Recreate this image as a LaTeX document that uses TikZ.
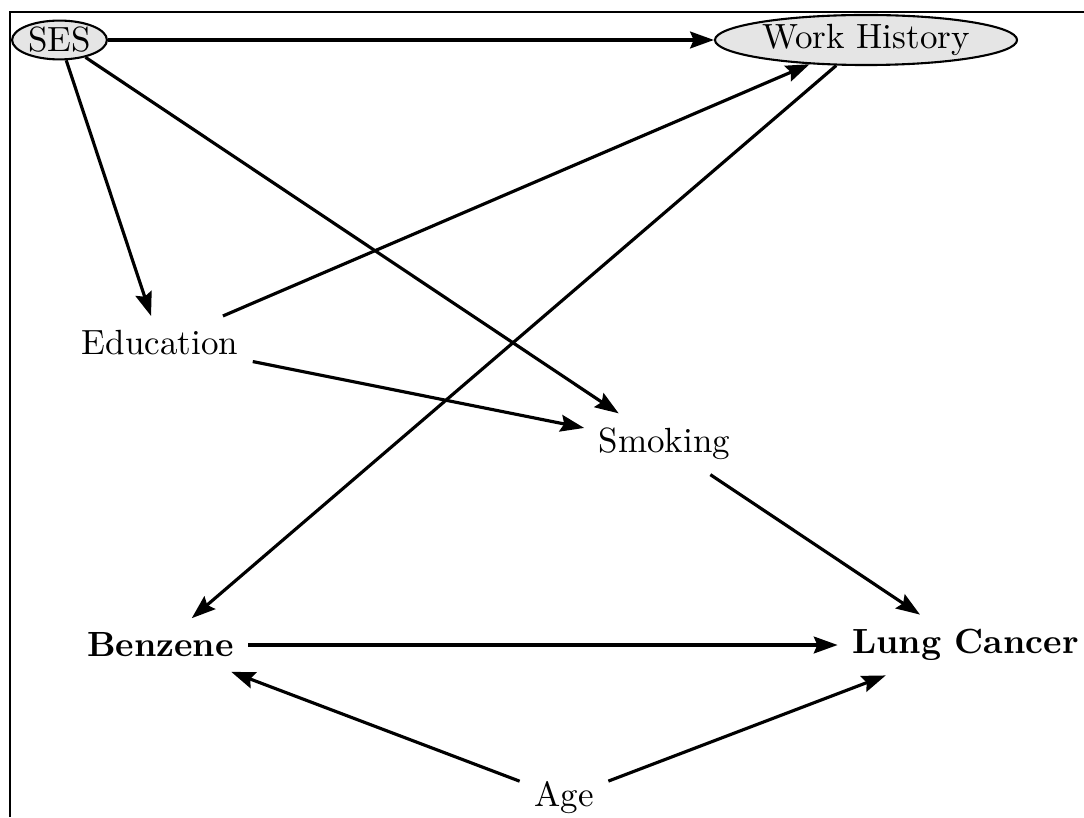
\documentclass[tikz,border=0pt]{standalone}
\usetikzlibrary{shapes.geometric,arrows.meta}
\begin{document}
\begin{tikzpicture}[x=0.285714pt,y=-0.285714pt,
  var/.style={inner sep=4pt},
  key/.style={inner sep=4pt, font=\bfseries},
  latent/.style={ellipse, draw, fill=black!10, line width=0.6pt, inner sep=0pt},
  edge/.style={-{Stealth[length=6.8pt,width=4.8pt,inset=1pt]}, line width=0.9pt},
  frame/.style={line width=0.6pt}]
\useasboundingbox (0,0) rectangle (1084,817);
\draw[frame] (10,817) -- (10,12) -- (1084,12);

\node[latent, minimum width=27.1pt, minimum height=11.1pt] (ses) at (59.5,40) {SES};
\node[latent, minimum width=86.3pt, minimum height=14.3pt] (wh) at (866,40) {Work History};
\node[var] (edu) at (160,343) {Education};
\node[var] (smk) at (664.5,444) {Smoking};
\node[key] (ben) at (160.5,645) {Benzene};
\node[key] (lc) at (965.5,645) {Lung Cancer};
\node[var] (age) at (564,798) {Age};

\draw[edge] (ses) -- (wh);
\draw[edge] (ses) -- (edu);
\draw[edge] (ses) -- (smk);
\draw[edge] (edu) -- (wh);
\draw[edge] (edu) -- (smk);
\draw[edge] (wh) -- (ben);
\draw[edge] (smk) -- (lc);
\draw[edge] (ben) -- (lc);
\draw[edge] (age) -- (ben);
\draw[edge] (age) -- (lc);
\end{tikzpicture}
\end{document}
